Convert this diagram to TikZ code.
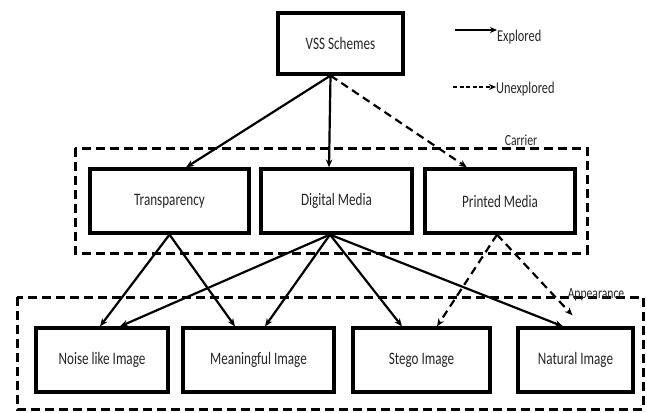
\documentclass[tikz,border=0pt]{standalone}
\usepackage{fontspec}
\setmainfont{Carlito}[FakeStretch=0.75]
\usetikzlibrary{arrows.meta,calc}
\begin{document}
\begin{tikzpicture}[x=1pt,y=-1pt,
  box/.style={draw=black,line width=3.2pt,fill=white,inner sep=0pt,text=black!85,font=\fontsize{17.5}{20}\selectfont},
  frame/.style={draw=black,line width=3pt,dash pattern=on 9pt off 5pt},
  solidarr/.style={line width=2.2pt,-{Stealth[length=8pt,width=6.5pt]}},
  dasharr/.style={line width=2.2pt,dash pattern=on 8pt off 5pt,-{Stealth[length=8pt,width=6.5pt]}},
  lbl/.style={text=black!85,font=\fontsize{15.5}{18}\selectfont,inner sep=0pt},
  legarr/.style={line width=1.4pt,-{Stealth[length=7pt,width=6pt]}}]
\useasboundingbox (0,0) rectangle (647,412);
% frames
\draw[frame] (75,148) rectangle (587,253);
\draw[frame] (17,297) rectangle (643,409);
\node[lbl] (carrier) at (521,140) {Carrier};
\node[lbl] (appear) at (596,295) {Appearance};
% boxes
\node[box,minimum width=125pt,minimum height=61pt] (vss) at (340.5,43.5) {VSS Schemes};
\node[box,minimum width=159pt,minimum height=64pt] (trans) at (169.5,201) {Transparency};
\node[box,minimum width=151pt,minimum height=64pt] (digi) at (336.5,201) {Digital Media};
\node[box,minimum width=150pt,minimum height=64pt] (print) at (500,201) {Printed Media};
\node[box,minimum width=132pt,minimum height=64pt] (noise) at (102,360) {Noise like Image};
\node[box,minimum width=151pt,minimum height=64pt] (mean) at (258.5,360) {Meaningful Image};
\node[box,minimum width=137pt,minimum height=64pt] (stego) at (421.5,360) {Stego Image};
\node[box,minimum width=115pt,minimum height=64pt] (natural) at (575.5,360) {Natural Image};
% connectors
\draw[solidarr] ([xshift=-10pt]vss.south) -- ([xshift=16.5pt]trans.north);
\draw[solidarr] ([xshift=-10pt]vss.south) -- ([xshift=-7.5pt]digi.north);
\draw[dasharr] ([xshift=-10pt]vss.south) -- ([xshift=-33pt]print.north);
\draw[solidarr] (trans.south) -- ([xshift=-2pt]noise.north);
\draw[solidarr] (trans.south) -- ([xshift=-23.5pt]mean.north);
\draw[solidarr] ([xshift=-6.5pt]digi.south) -- ([xshift=18pt]noise.north);
\draw[solidarr] ([xshift=-6.5pt]digi.south) -- ([xshift=6.5pt]mean.north);
\draw[solidarr] ([xshift=-6.5pt]digi.south) -- ([xshift=-19.5pt]stego.north);
\draw[solidarr] ([xshift=-6.5pt]digi.south) -- ([xshift=-12.5pt]natural.north);
\draw[dasharr] ([xshift=-3pt]print.south) -- ([xshift=15.5pt]stego.north);
\draw[dasharr] ([xshift=-3pt]print.south) -- ([xshift=-3pt,yshift=11pt]natural.north);
% legend
\coordinate (l1) at (455,30);
\coordinate (l2) at (453,87);
\node[lbl,anchor=west,font=\fontsize{16.5}{19}\selectfont] (expl) at (497,37) {Explored};
\node[lbl,anchor=west,font=\fontsize{16.5}{19}\selectfont] (unexpl) at (496,89) {Unexplored};
\draw[legarr] (l1) -- (l1 -| expl.west);
\draw[legarr,dash pattern=on 4pt off 2.5pt] (l2) -- (l2 -| unexpl.west);
\end{tikzpicture}
\end{document}
